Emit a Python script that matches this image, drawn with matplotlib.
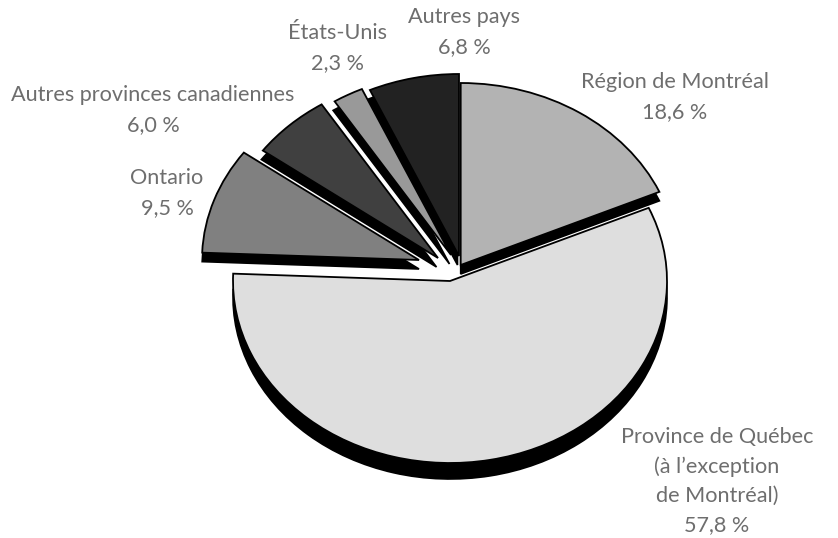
import matplotlib
matplotlib.use("Agg")
import matplotlib.pyplot as plt

# donnees (part en %)
categories = ["Région de Montréal", "Province de Québec", "Ontario",
              "Autres provinces canadiennes", "États-Unis", "Autres pays"]
values = [18.6, 57.8, 9.5, 6.0, 2.3, 6.8]
value_labels = ["18,6 %", "57,8 %", "9,5 %", "6,0 %", "2,3 %", "6,8 %"]
label_lines = ["Région de Montréal", "Province de Québec\n(à l’exception\nde Montréal)", "Ontario",
               "Autres provinces canadiennes", "États-Unis", "Autres pays"]

colors = ["#b3b3b3", "#dedede", "#808080", "#404040", "#999999", "#222222"]

# mise en page, en pixels de l'image
W, H = 838, 538
CX, CY = 450, 281    # pointe de la grande part
RX, RY = 217, 182    # la tarte est ecrasee
apex_px = [(460.7, 265), (450, 281), (419, 260), (438, 258), (451, 255), (459, 256)]
depth_px = [9, 16, 9, 9, 9, 9]
shift_px = [0, 0, 0, -1.5, -1.5, -1.5]
label_px = [(675, 97), (717, 481), (167, 193), (153, 110), (337, 48), (464, 32)]
draw_order = [1, 0, 2, 3, 4, 5]

fig = plt.figure(figsize=(W / 100, H / 100), dpi=100)
ax = fig.add_axes([0, 0, 1, 1])

shadows, _ = ax.pie(values, startangle=90, counterclock=False, colors=["black"] * 6,
                    wedgeprops={"edgecolor": "black", "linewidth": 1.2})
faces, _ = ax.pie(values, startangle=90, counterclock=False, colors=colors,
                  wedgeprops={"edgecolor": "black", "linewidth": 1.3})

ax.set_aspect("auto")
ax.set_xlim(-CX / RX, (W - CX) / RX)
ax.set_ylim((CY - H) / RY, CY / RY)
ax.axis("off")

for z, i in enumerate(draw_order):
    x = (apex_px[i][0] - CX) / RX
    y = (CY - apex_px[i][1]) / RY
    faces[i].set_center((x, y))
    shadows[i].set_center((x + shift_px[i] / RX, y - depth_px[i] / RY))
    shadows[i].set_zorder(2 + 2 * z)
    faces[i].set_zorder(3 + 2 * z)

for i in range(len(categories)):
    px, py = label_px[i]
    fig.text(px / W, 1 - py / H, label_lines[i] + "\n" + value_labels[i],
             ha="center", va="center", fontsize=15.6, color="#6e6e6e",
             family="Lato", weight="normal", linespacing=1.58)

fig.savefig("out.png", dpi=100)
